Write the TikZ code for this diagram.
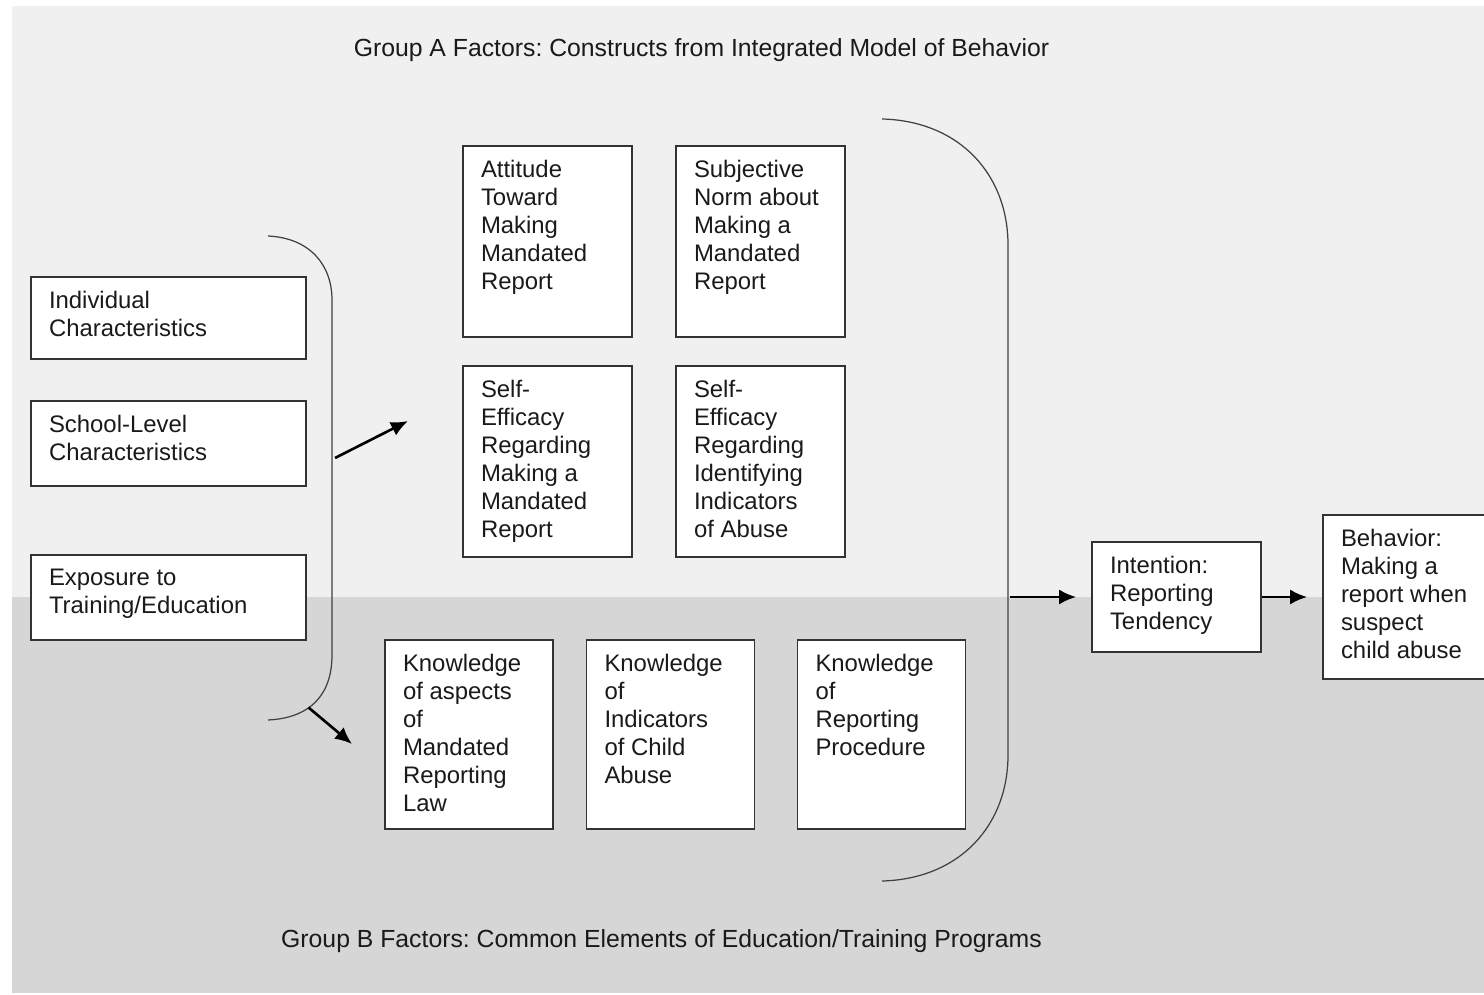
\documentclass[tikz,border=0pt]{standalone}
\usepackage{fontspec}
\setmainfont{Liberation Sans}
\usepackage{tikz}
\usetikzlibrary{arrows.meta}
\pgfdeclarelayer{edgelayer}
\pgfdeclarelayer{nodelayer}
\pgfsetlayers{edgelayer,nodelayer,main}
\definecolor{groupa}{HTML}{F0F0F0}
\definecolor{groupb}{HTML}{D6D6D6}
\definecolor{inktext}{HTML}{1A1A1A}
\newcommand{\boxlines}[3]{\parbox[c][#2][t]{#1}{\raggedright #3}}
\tikzstyle{none}=[inner sep=0pt, text=inktext, font=\fontsize{14.1}{16}\selectfont]
\tikzstyle{factor}=[draw=black!80, fill=white, line width=0.9pt, inner xsep=0.36cm, inner ysep=0.28cm, text=inktext, font=\fontsize{13.6}{16}\selectfont]
\tikzstyle{bracket}=[draw=black!75, line width=0.7pt]
\tikzstyle{influence}=[-{Latex[length=0.34cm, width=0.3cm]}, draw=black, line width=1.5pt]

\begin{document}
\begin{tikzpicture}
	\useasboundingbox (0, 0) rectangle (29.68, -19.9);
	\begin{pgfonlayer}{nodelayer}
		\node [style=factor] (0) at (3.37, -6.36) {\boxlines{4.78cm}{1.08cm}{Individual\\Characteristics}};
		\node [style=factor] (1) at (3.37, -8.87) {\boxlines{4.78cm}{1.14cm}{School-Level\\Characteristics}};
		\node [style=factor] (2) at (3.37, -11.95) {\boxlines{4.78cm}{1.14cm}{Exposure to\\Training/Education}};
		\node [style=factor] (3) at (10.95, -4.83) {\boxlines{2.66cm}{3.26cm}{Attitude\\Toward\\Making\\Mandated\\Report}};
		\node [style=factor] (4) at (15.21, -4.83) {\boxlines{2.66cm}{3.26cm}{Subjective\\Norm about\\Making a\\Mandated\\Report}};
		\node [style=factor] (5) at (10.95, -9.23) {\boxlines{2.66cm}{3.26cm}{Self-\\Efficacy\\Regarding\\Making a\\Mandated\\Report}};
		\node [style=factor] (6) at (15.21, -9.23) {\boxlines{2.66cm}{3.26cm}{Self-\\Efficacy\\Regarding\\Identifying\\Indicators\\of Abuse}};
		\node [style=factor] (7) at (9.38, -14.69) {\boxlines{2.64cm}{3.22cm}{Knowledge\\of aspects\\of\\Mandated\\Reporting\\Law}};
		\node [style=factor] (8) at (13.41, -14.69) {\boxlines{2.64cm}{3.22cm}{Knowledge\\of\\Indicators\\of Child\\Abuse}};
		\node [style=factor] (9) at (17.63, -14.69) {\boxlines{2.64cm}{3.22cm}{Knowledge\\of\\Reporting\\Procedure}};
		\node [style=factor] (10) at (23.53, -11.94) {\boxlines{2.66cm}{1.64cm}{Intention:\\Reporting\\Tendency}};
		\node [style=factor] (11) at (28.15, -11.94) {\boxlines{2.66cm}{2.72cm}{Behavior:\\Making a\\report when\\suspect\\child abuse}};
		\node [style=none] (12) at (14.03, -1.0) {Group A Factors:\ Constructs from Integrated Model of Behavior};
		\node [style=none] (13) at (13.23, -18.82) {Group B Factors:\ Common Elements of Education/Training Programs};
		\coordinate (14) at (6.7, -9.16);
		\coordinate (15) at (8.16, -8.42);
		\coordinate (16) at (6.17, -14.15);
		\coordinate (17) at (7.04, -14.88);
		\coordinate (18) at (20.2, -11.94);
	\end{pgfonlayer}
	\begin{pgfonlayer}{edgelayer}
		\fill [groupa] (0.24, -0.12) rectangle (29.68, -11.94);
		\fill [groupb] (0.24, -11.94) rectangle (29.68, -19.86);
		\draw [style=bracket] (5.36, -4.72) .. controls (6.2, -4.76) and (6.64, -5.3) .. (6.64, -6.0) -- (6.64, -13.1) .. controls (6.64, -13.9) and (6.2, -14.36) .. (5.36, -14.4);
		\draw [style=bracket] (17.64, -2.38) .. controls (19.2, -2.42) and (20.16, -3.5) .. (20.16, -4.9) -- (20.16, -15.1) .. controls (20.16, -16.5) and (19.2, -17.58) .. (17.64, -17.62);
		\draw [style=influence] (14) to (15);
		\draw [style=influence] (16) to (17);
		\draw [style=influence, shorten >=0.3cm] (18) to (10);
		\draw [style=influence, shorten >=0.3cm] (10) to (11);
	\end{pgfonlayer}
\end{tikzpicture}
\end{document}
